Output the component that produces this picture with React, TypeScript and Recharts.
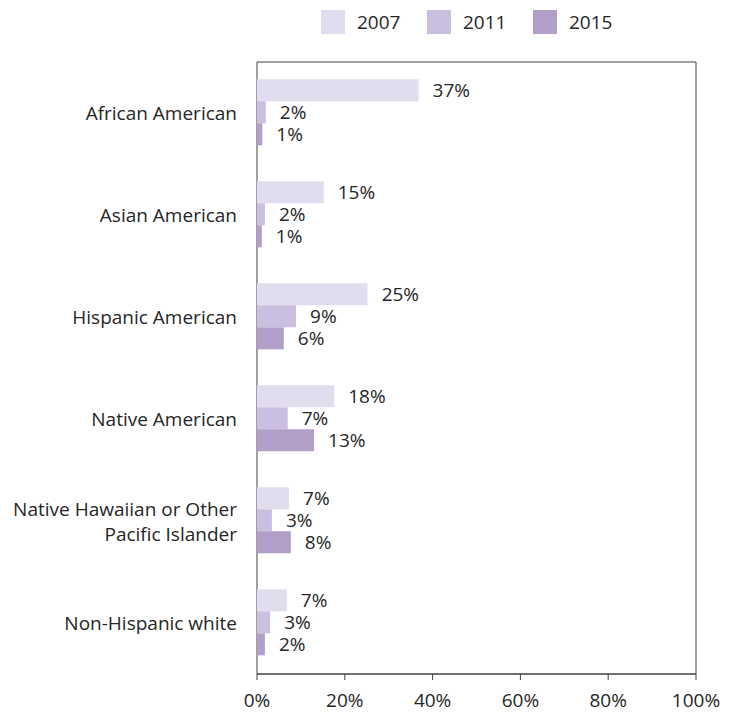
import React from "react";
import {
  Bar,
  BarChart,
  LabelList,
  Legend,
  ReferenceArea,
  XAxis,
  YAxis,
} from "recharts";

const groups = [
  "African American",
  "Asian American",
  "Hispanic American",
  "Native American",
  "Native Hawaiian or Other Pacific Islander",
  "Non-Hispanic white",
];
const y2007 = [36.8, 15.2, 25.2, 17.6, 7.3, 6.8];
const y2011 = [2.0, 1.8, 8.9, 7.0, 3.4, 3.0];
const y2015 = [1.2, 1.1, 6.1, 13.0, 7.7, 1.8];
const xTicks = [0, 20, 40, 60, 80, 100];

const series = [
  { key: "y2007", name: "2007", color: "#e2ddee" },
  { key: "y2011", name: "2011", color: "#cbbfe1" },
  { key: "y2015", name: "2015", color: "#b19fc9" },
];

const data = groups.map((name, i) => ({
  name,
  y2007: y2007[i],
  y2011: y2011[i],
  y2015: y2015[i],
}));

const FONT = "'Open Sans', 'Liberation Sans', sans-serif";
const TEXT = "#262626";
const FS = 19;

const wrapLabels: Record<string, string[]> = {
  "Native Hawaiian or Other Pacific Islander": [
    "Native Hawaiian or Other",
    "Pacific Islander",
  ],
};

function GroupTick(props: any) {
  const { x, y, payload } = props;
  const lines = wrapLabels[payload.value] ?? [payload.value];
  const lh = 25;
  const start = y - ((lines.length - 1) * lh) / 2;
  return (
    <text
      x={x}
      y={start}
      textAnchor="end"
      dominantBaseline="central"
      fill={TEXT}
      fontSize={FS}
      fontFamily={FONT}
    >
      {lines.map((l, i) => (
        <tspan key={i} x={x} y={start + i * lh}>
          {l}
        </tspan>
      ))}
    </text>
  );
}

function LegendBox() {
  return (
    <div style={{ height: 52, position: "relative" }}>
      {series.map((s, i) => (
        <div
          key={s.key}
          style={{
            position: "absolute",
            left: 321 + i * 106,
            top: 0,
            display: "flex",
            alignItems: "center",
            height: 24,
            fontFamily: FONT,
            fontSize: FS,
            color: TEXT,
          }}
        >
          <span
            style={{
              width: 24,
              height: 24,
              background: s.color,
              display: "inline-block",
              marginRight: 12,
            }}
          />
          {s.name}
        </div>
      ))}
    </div>
  );
}

export default function App() {
  return (
    <div style={{ position: "absolute", left: 0, top: 0, background: "#fff" }}>
      <BarChart
        width={730}
        height={712}
        data={data}
        layout="vertical"
        margin={{ top: 10, right: 34, bottom: 8, left: 0 }}
        barCategoryGap="17%"
        barGap={0}
      >
        <Legend
          verticalAlign="top"
          align="left"
          content={() => <LegendBox />}
          wrapperStyle={{ left: 0, width: 730 }}
        />
        <XAxis
          type="number"
          domain={[0, 100]}
          ticks={xTicks}
          tickFormatter={(v) => `${v}%`}
          height={30}
          tickSize={6}
          tickMargin={14}
          axisLine={{ stroke: "#404040" }}
          tickLine={{ stroke: "#404040" }}
          tick={{ fill: TEXT, fontSize: FS, fontFamily: FONT }}
          interval={0}
        />
        <YAxis
          type="category"
          dataKey="name"
          width={257}
          axisLine={false}
          tickLine={false}
          tickSize={0}
          tickMargin={20}
          tick={(p: any) => <GroupTick {...p} />}
          interval={0}
        />
        {series.map((s) => (
          <Bar
            key={s.key}
            dataKey={s.key}
            name={s.name}
            fill={s.color}
            isAnimationActive={false}
          >
            <LabelList
              dataKey={s.key}
              position="right"
              offset={14}
              formatter={(v: any) => `${Math.round(v)}%`}
              style={{ fill: TEXT, fontSize: FS, fontFamily: FONT }}
            />
          </Bar>
        ))}
        <ReferenceArea
          x1={0}
          x2={100}
          fill="none"
          fillOpacity={0}
          stroke="#404040"
          strokeWidth={1}
        />
      </BarChart>
    </div>
  );
}
